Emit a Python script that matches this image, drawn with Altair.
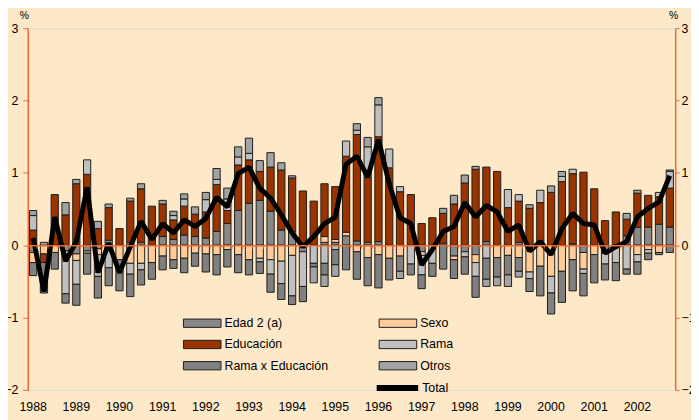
import altair as alt
import pandas as pd

years = list(range(1988, 2003))
quarters = [f"{y}T{q}" for y in years for q in range(1, 5)]

series_names = ["Edad 2 (a)", "Sexo", "Educación", "Rama", "Rama x Educación", "Otros"]
series_colors = ["#888888", "#FFCC99", "#993300", "#C0C0C0", "#808080", "#A3A3A3"]
# legend is laid out column by column: this order gives rows Edad|Sexo, Educación|Rama, RxE|Otros
legend_order = [0, 2, 4, 1, 3, 5]

edad = [-0.10, 0.00, 0.00, -0.08, -0.12, -0.08, -0.05, 0.07, 0.00, 0.04,
        0.04, 0.00, 0.12, 0.08, 0.14, 0.12, 0.10, 0.19, 0.30, 0.48,
        0.58, 0.62, 0.47, 0.21, 0.19, -0.09, 0.00, 0.04, 0.04, 0.13,
        0.06, 0.04, 0.05, 0.00, 0.00, 0.00, -0.09, 0.00, 0.03, -0.15,
        -0.09, -0.13, 0.05, 0.00, 0.00, 0.04, 0.00, 0.00, 0.00, 0.00,
        0.02, -0.10, 0.00, -0.11, 0.00, 0.13, 0.25, 0.25, 0.29, 0.25]
sexo = [-0.14, -0.12, -0.10, -0.04, -0.09, -0.03, -0.08, 0.00, -0.20, -0.25,
        -0.25, -0.24, -0.15, -0.20, -0.18, -0.11, -0.12, -0.13, -0.06, -0.13,
        -0.20, -0.18, -0.20, -0.22, -0.14, 0.00, 0.00, 0.08, 0.04, 0.05,
        -0.09, -0.17, -0.13, -0.18, -0.15, 0.00, -0.05, 0.00, 0.00, -0.05,
        0.00, -0.11, 0.00, -0.17, -0.14, -0.17, -0.37, -0.29, -0.43, -0.36,
        -0.20, -0.23, -0.13, 0.00, 0.00, 0.00, -0.13, -0.06, -0.10, 0.00]
educacion = [0.21, -0.12, 0.70, 0.42, 0.85, 0.98, 0.23, 0.45, 0.23, 0.57,
             0.74, 0.54, 0.45, 0.27, 0.40, 0.31, 0.36, 0.65, 0.18, 0.63,
             0.60, 0.40, 0.61, 0.83, 0.74, 0.75, 0.61, 0.73, 0.73, 1.05,
             1.47, 0.90, 1.45, 1.07, 0.74, 0.70, 0.30, 0.38, 0.41, 0.57,
             0.86, 1.05, 1.03, 1.02, 0.52, 0.57, 0.51, 0.59, 0.73, 0.88,
             0.97, 1.01, 0.78, 0.34, 0.46, 0.23, 0.47, 0.44, 0.38, 0.54]
rama = [0.20, 0.00, 0.00, -0.55, -0.33, 0.20, -0.30, -0.31, 0.00, -0.15,
        -0.09, 0.00, 0.00, 0.06, 0.10, 0.00, 0.17, 0.07, 0.16, 0.11,
        0.09, -0.05, -0.20, -0.31, -0.56, -0.48, -0.25, -0.25, -0.06, 0.21,
        0.06, 0.42, 0.44, 0.26, 0.07, -0.26, -0.27, -0.25, 0.00, 0.00,
        -0.07, -0.19, -0.18, 0.00, 0.25, 0.09, -0.09, 0.17, -0.23, 0.07,
        0.06, -0.06, 0.00, -0.15, -0.24, -0.33, -0.10, -0.05, 0.06, 0.23]
rama_x_educ = [-0.18, -0.42, -0.23, -0.13, -0.29, -0.29, -0.30, -0.25, -0.43, -0.31,
               -0.21, -0.23, -0.19, -0.12, -0.20, -0.18, -0.25, -0.28, -0.24, -0.25,
               -0.21, -0.16, -0.25, -0.22, -0.12, -0.21, -0.05, -0.16, -0.21, -0.34,
               -0.38, -0.39, -0.46, -0.30, -0.21, -0.15, -0.19, -0.18, -0.33, -0.26,
               -0.24, -0.29, -0.29, -0.27, -0.27, -0.19, -0.18, -0.41, -0.29, -0.43,
               -0.43, -0.31, -0.39, -0.22, -0.25, -0.07, -0.17, -0.09, -0.03, -0.10]
otros = [0.07, 0.04, 0.00, 0.17, 0.06, 0.00, 0.10, 0.05, 0.00, 0.04,
         0.07, 0.00, 0.05, 0.06, 0.07, 0.10, 0.10, 0.15, 0.15, 0.14,
         0.21, 0.15, 0.20, 0.10, 0.03, 0.00, -0.22, -0.16, -0.16, 0.00,
         0.09, 0.13, 0.10, 0.00, -0.10, 0.00, 0.00, 0.00, 0.07, 0.12,
         0.11, 0.04, -0.10, -0.12, -0.16, -0.08, 0.05, 0.00, 0.09, 0.07,
         0.00, 0.00, 0.00, 0.00, 0.00, 0.08, 0.04, 0.00, 0.00, 0.02]
total = [0.10, -0.64, 0.39, -0.22, 0.05, 0.80, -0.38, 0.03, -0.38, -0.02,
         0.33, 0.08, 0.30, 0.17, 0.35, 0.26, 0.37, 0.66, 0.53, 0.99,
         1.08, 0.79, 0.65, 0.42, 0.17, -0.02, 0.12, 0.30, 0.39, 1.12,
         1.23, 0.94, 1.46, 0.85, 0.38, 0.30, -0.27, -0.06, 0.19, 0.26,
         0.59, 0.39, 0.55, 0.46, 0.19, 0.28, -0.08, 0.05, -0.13, 0.23,
         0.44, 0.30, 0.28, -0.11, -0.02, 0.05, 0.39, 0.51, 0.60, 0.96]

series_values = [edad, sexo, educacion, rama, rama_x_educ, otros]
rows = []
for i, q in enumerate(quarters):
    for k, (name, vals) in enumerate(zip(series_names, series_values)):
        if vals[i] != 0:
            rows.append({"trimestre": q, "serie": name, "orden": k, "valor": vals[i]})
bars_df = pd.DataFrame(rows)
line_df = pd.DataFrame({"trimestre": quarters, "total": total, "nombre": ["Total"] * len(quarters)})

legend_domain = [series_names[k] for k in legend_order]
legend_range = [series_colors[k] for k in legend_order]

ORANGE = "#EE6A35"
FONT = "Liberation Sans"
y_scale = alt.Scale(domain=[-2, 3], nice=False, zero=False)
x_scale = alt.Scale(paddingInner=0.33, paddingOuter=0.165)

bars = alt.Chart(bars_df).mark_bar(stroke="#1E1E1E", strokeWidth=1).encode(
    x=alt.X("trimestre:O", sort=quarters, scale=x_scale,
            axis=alt.Axis(title=None, orient="bottom", domain=False, ticks=False, labelAngle=0,
                          labelFontSize=12.5, labelColor="black", labelPadding=11,
                          labelExpr="indexof(datum.value, 'T1') > 0 ? substring(datum.value, 0, 4) : ''")),
    y=alt.Y("valor:Q", stack="zero", scale=y_scale,
            axis=alt.Axis(title="%", orient="left", titleAngle=0, titleX=-4, titleY=-13,
                          titleAlign="center", titleBaseline="middle", titleFontSize=10.5,
                          titleFontWeight="normal", values=[-2, -1, 0, 1, 2, 3], grid=False,
                          domainColor=ORANGE, domainWidth=1.5, tickColor=ORANGE, tickSize=5,
                          labelPadding=5, labelFontSize=12.5, labelColor="black")),
    fill=alt.Fill("serie:N", scale=alt.Scale(domain=legend_domain, range=legend_range),
                  legend=alt.Legend(title=None, orient="none", legendX=166, legendY=288,
                                    columns=2, columnPadding=49, rowPadding=4.5,
                                    symbolType="M-1.9,-0.42L1.9,-0.42L1.9,0.42L-1.9,0.42Z",
                                    symbolSize=400, symbolStrokeColor="#1E1E1E",
                                    symbolStrokeWidth=1, labelOffset=12, labelFontSize=12.5,
                                    labelColor="black", padding=0)),
    order=alt.Order("orden:Q", sort="ascending"),
)

line = alt.Chart(line_df).mark_line(strokeWidth=5, strokeJoin="bevel").encode(
    x=alt.X("trimestre:O", sort=quarters, scale=x_scale,
            axis=alt.Axis(title=None, orient="bottom", labels=False, offset=-146.4,
                          domainColor=ORANGE, domainWidth=1.5, tickColor=ORANGE, tickSize=3,
                          tickBand="extent", zindex=1)),
    y=alt.Y("total:Q", scale=y_scale,
            axis=alt.Axis(title="%", titleAngle=0, titleX=-2, titleY=-13, titleAlign="center",
                          titleBaseline="middle", titleFontSize=10.5, titleFontWeight="normal",
                          orient="right", values=[-2, -1, 0, 1, 2, 3], grid=False,
                          domainColor=ORANGE, domainWidth=1.5, tickColor=ORANGE, tickSize=4,
                          labelPadding=2, labelFontSize=12.5, labelColor="black")),
    stroke=alt.Stroke("nombre:N", scale=alt.Scale(range=["#000000"]),
                      legend=alt.Legend(title=None, orient="none", legendX=350, legendY=340,
                                        symbolType="stroke", symbolSize=1764,
                                        symbolStrokeWidth=6, labelOffset=1,
                                        labelFontSize=12.5, labelColor="black", padding=0)),
)

chart = alt.layer(bars, line).resolve_axis(x="independent", y="independent").properties(
    width=655, height=366,
    autosize=alt.AutoSizeParams(type="none"),
    padding={"left": 20, "top": 18, "right": 16, "bottom": 28},
    background="#FDE8C8",
).configure_view(fill="#FDD9A5", stroke="transparent").configure(font=FONT)

chart.save("out.html", embed_options={"renderer": "svg", "actions": False})
